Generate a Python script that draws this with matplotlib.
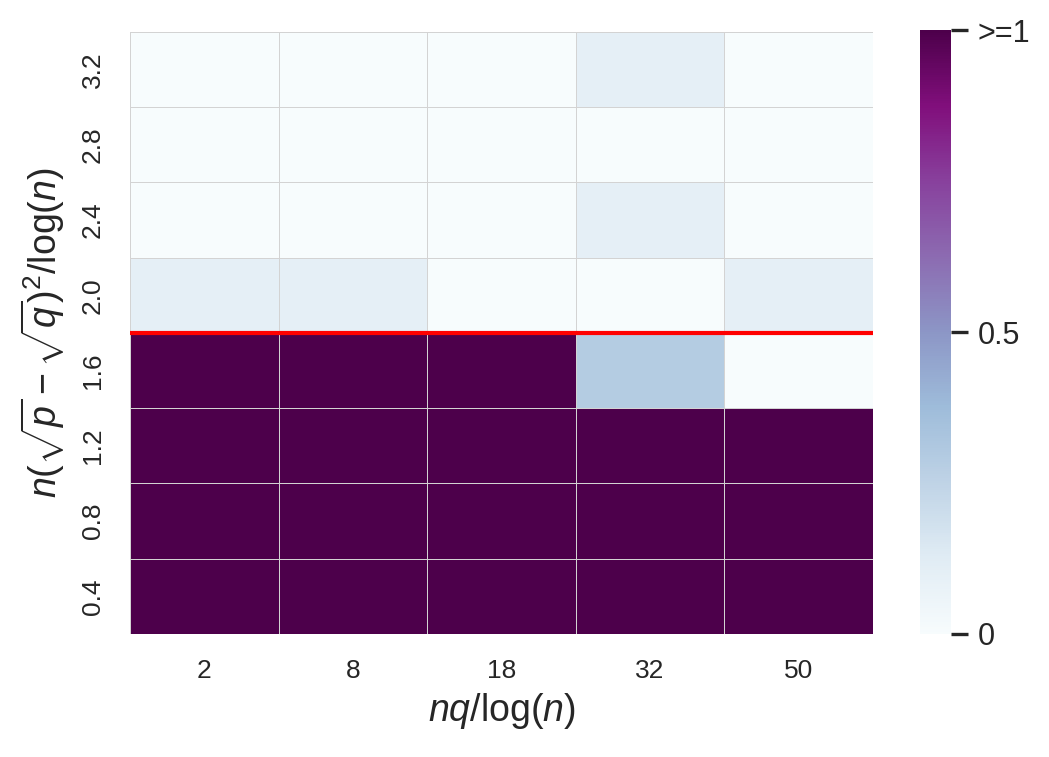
import numpy as np
import pandas as pd
import matplotlib
matplotlib.use('Agg')
import matplotlib.pyplot as plt
import seaborn as sns

# rows listed bottom to top
y_vals = ['0.4', '0.8', '1.2', '1.6', '2.0', '2.4', '2.8', '3.2']
x_vals = ['2', '8', '18', '32', '50']

row_04 = [1.0, 1.0, 1.0, 1.0, 1.0]
row_08 = [1.0, 1.0, 1.0, 1.0, 1.0]
row_12 = [1.0, 1.0, 1.0, 1.0, 1.0]
row_16 = [1.0, 1.0, 1.0, 0.29, 0.0]
row_20 = [0.1, 0.1, 0.0, 0.0, 0.1]
row_24 = [0.0, 0.0, 0.0, 0.1, 0.0]
row_28 = [0.0, 0.0, 0.0, 0.0, 0.0]
row_32 = [0.0, 0.0, 0.0, 0.1, 0.0]

threshold_row = 4  # boundary between 1.6 and 2.0


def main():
    sns.set_theme(style='white')
    plt.rcParams['font.family'] = ['Liberation Sans', 'DejaVu Sans']
    plt.rcParams['mathtext.fontset'] = 'custom'
    plt.rcParams['mathtext.rm'] = 'Liberation Sans'
    plt.rcParams['mathtext.it'] = 'Liberation Sans:italic'

    rows = [row_04, row_08, row_12, row_16, row_20, row_24, row_28, row_32]
    # top row first for the heatmap
    df = pd.DataFrame(rows[::-1], index=y_vals[::-1], columns=x_vals)

    fig = plt.figure(figsize=(5.245, 3.785), dpi=200)
    ax = fig.add_axes([0.124, 0.1625, 0.708, 0.7955])
    cax = fig.add_axes([0.877, 0.1625, 0.0296, 0.7975])

    sns.heatmap(df, ax=ax, cbar_ax=cax, cmap='BuPu', vmin=0, vmax=1,
                linewidths=0.25, linecolor='lightgray',
                cbar_kws={'ticks': [0, 0.5, 1]})

    ax.axhline(len(y_vals) - threshold_row, color='red', lw=1.5)

    ax.tick_params(axis='both', length=0, pad=9, labelsize=9.5)
    ax.set_yticklabels(ax.get_yticklabels(), rotation=90, va='center')
    ax.set_xticklabels(ax.get_xticklabels(), rotation=0)
    ax.set_xlabel(r'$nq/\log(n)$', fontsize=13.5, labelpad=3)
    ax.set_ylabel(r'$n(\sqrt{p}-\sqrt{q})^2/\log(n)$', fontsize=13.5, labelpad=5)

    cax.set_yticklabels(['0', '0.5', '>=1'])
    cax.tick_params(length=6, width=1.2, color='#262626', labelsize=11, pad=3.5)
    cax.yaxis.set_ticks_position('right')
    for s in cax.spines.values():
        s.set_visible(False)

    plt.savefig('out.png', dpi=200)


if __name__ == "__main__":
    main()
